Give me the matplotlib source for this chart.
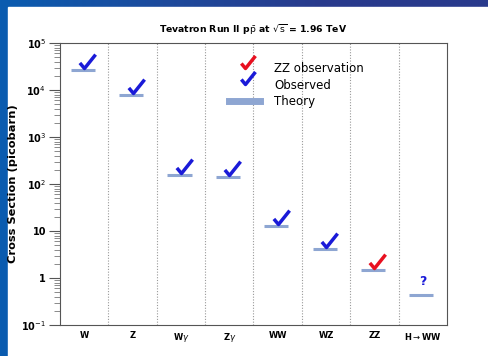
import numpy as np
import matplotlib
matplotlib.use('Agg')
import matplotlib.pyplot as plt
from matplotlib.path import Path
from matplotlib.lines import Line2D
from matplotlib.colors import LinearSegmentedColormap

processes = ['W', 'Z', r'W$\gamma$', r'Z$\gamma$', 'WW', 'WZ', 'ZZ', r'H$\rightarrow$WW']
theory = [27000, 7800, 155, 140, 12.8, 4.1, 1.48, 0.44]
observed = [27000, 7800, 155, 140, 12.8, 4.1, 1.48]
obs_color = ['#1a1ad8', '#1a1ad8', '#1a1ad8', '#1a1ad8', '#1a1ad8', '#1a1ad8', '#e81020']
ytick_vals = [1e-1, 1, 10, 1e2, 1e3, 1e4, 1e5]
ytick_labels = ['10$^{-1}$', '1', '10', '10$^{2}$', '10$^{3}$', '10$^{4}$', '10$^{5}$']

# check mark with its bottom corner at the origin
check = Path([(-5, 6), (0, 0), (12, 15)], [Path.MOVETO, Path.LINETO, Path.LINETO])

theory_col = '#8ea6d2'

fig = plt.figure(figsize=(4.89, 3.56), dpi=100)

# slide background
bg = fig.add_axes([0, 0, 1, 1], zorder=-2)
cmap = LinearSegmentedColormap.from_list('slide', ['#0a5cb0', '#1d4a9c', '#293a8c', '#293a8c'])
bg.imshow(np.linspace(0, 1, 256)[None, :], aspect='auto', cmap=cmap, extent=[0, 1, 0, 1])
bg.add_patch(plt.Rectangle((8 / 489, 0), 1, 349 / 356, color='white'))
bg.set_xlim(0, 1)
bg.set_ylim(0, 1)
bg.axis('off')

ax = fig.add_axes([60 / 489, 1 - 325 / 356, 387 / 489, 282 / 356])
ax.set_yscale('log')
ax.set_ylim(1e-1, 1e5)
ax.set_xlim(-0.5, len(processes) - 0.5)

for i in range(1, len(processes)):
    ax.axvline(i - 0.5, color='#999999', lw=0.8, ls=(0, (1, 1.5)))

x = np.arange(len(processes))
ax.hlines(theory, x - 0.28, x + 0.22, color=theory_col, lw=2.2, zorder=3)
for i, v in enumerate(observed):
    ax.plot(i, v * 1.1, marker=check, ms=20, mfc='none', mec=obs_color[i], mew=2.5, ls='none', zorder=4)
ax.text(7, 0.85, '?', color='#1a1ad8', fontsize=9, fontweight='bold', ha='center', va='center')

ax.set_xticks(x)
ax.set_xticklabels(processes, fontsize=6, fontweight='bold')
ax.tick_params(axis='x', length=0, pad=4)
ax.set_yticks(ytick_vals)
ax.set_yticklabels(ytick_labels, fontsize=7, fontweight='bold')
ax.yaxis.set_minor_locator(matplotlib.ticker.LogLocator(base=10, subs=np.arange(2, 10)))
ax.yaxis.set_minor_formatter(matplotlib.ticker.NullFormatter())
ax.tick_params(axis='y', which='major', length=8, width=0.8, color='#555555', pad=2)
ax.tick_params(axis='y', which='minor', length=4, width=0.6, color='#777777')
for s in ax.spines.values():
    s.set_color('#555555')

ax.set_ylabel('Cross Section (picobarn)', fontsize=8.2, fontweight='bold')
ax.yaxis.set_label_coords(-0.108, 0.5)
ax.set_title(r'Tevatron Run II p$\bar{\rm p}$ at $\sqrt{\rm s}$ = 1.96 TeV', fontsize=6.7, fontweight='bold', pad=7)

handles = [
    Line2D([], [], marker=check, ms=18, mfc='none', mec='#e81020', mew=2.5, ls='none'),
    Line2D([], [], marker=check, ms=18, mfc='none', mec='#1a1ad8', mew=2.5, ls='none'),
    Line2D([], [], color=theory_col, lw=5),
]
ax.legend(handles, ['ZZ observation', 'Observed', 'Theory'], loc='upper left',
          bbox_to_anchor=(0.41, 0.97), frameon=False, fontsize=8.5,
          handlelength=2.6, labelspacing=0.3, handletextpad=1.2)

fig.savefig('out.png', dpi=100)
